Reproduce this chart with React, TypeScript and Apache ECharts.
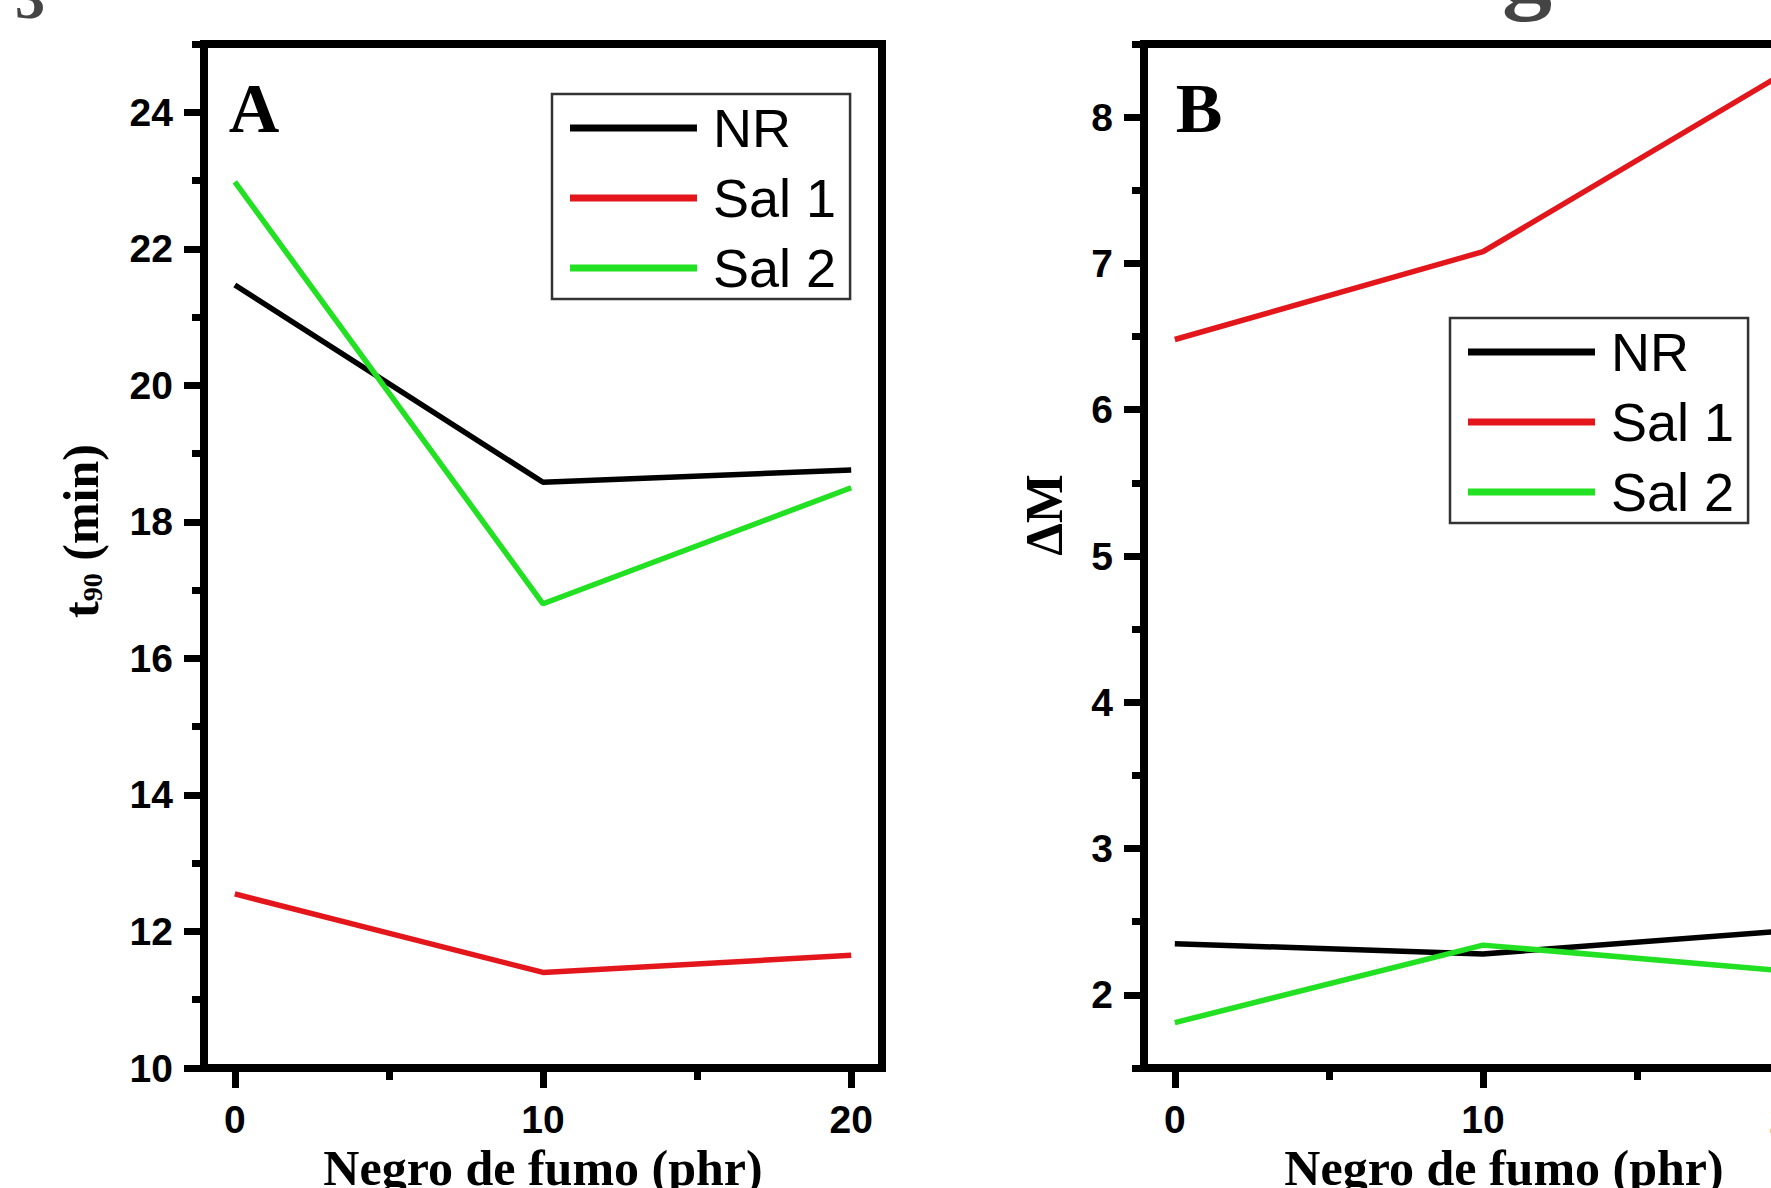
import React, { useEffect, useRef } from "react";
import * as echarts from "echarts";

// ---- data ----
const seriesNames = ["NR", "Sal 1", "Sal 2"];
const seriesColors = ["#000000", "#e3161c", "#22e022"];
const loadings = [0, 10, 20];

const xTicks = [0, 10, 20];
const xMinorTicks = [5, 15];

// Panel A: t90 (min)
const t90NR = [21.47, 18.58, 18.76];
const t90Sal1 = [12.55, 11.4, 11.65];
const t90Sal2 = [22.98, 16.8, 18.5];
const t90Ticks = [10, 12, 14, 16, 18, 20, 22, 24];
const t90Minor = [11, 13, 15, 17, 19, 21, 23, 25];

// Panel B: ΔM
const dmNR = [2.35, 2.28, 2.44];
const dmSal1 = [6.48, 7.08, 8.33];
const dmSal2 = [1.81, 2.34, 2.16];
const dmTicks = [2, 3, 4, 5, 6, 7, 8];
const dmMinor = [1.5, 2.5, 3.5, 4.5, 5.5, 6.5, 7.5, 8.5];

const SANS = "Liberation Sans";
const SERIF = "Liberation Serif";

function pairs(ys: number[]) {
  return loadings.map((x, i) => [x, ys[i]]);
}

function mainX(gridIndex: number) {
  return {
    type: "value",
    gridIndex,
    min: -1,
    max: 21,
    axisLine: { show: true, onZero: false, lineStyle: { color: "#000", width: 8 } },
    axisTick: { show: true, customValues: xTicks, length: 20, lineStyle: { color: "#000", width: 7 } },
    axisLabel: {
      show: true,
      customValues: xTicks,
      margin: 32,
      fontSize: 39,
      fontWeight: "bold",
      fontFamily: SANS,
      color: "#000",
    },
    splitLine: { show: false },
  };
}

function minorX(gridIndex: number) {
  return {
    type: "value",
    gridIndex,
    min: -1,
    max: 21,
    axisLine: { show: false, onZero: false },
    axisTick: { show: true, customValues: xMinorTicks, length: 12, lineStyle: { color: "#000", width: 7 } },
    axisLabel: { show: false },
    splitLine: { show: false },
  };
}

function mainY(gridIndex: number, min: number, max: number, ticks: number[]) {
  return {
    type: "value",
    gridIndex,
    min,
    max,
    axisLine: { show: true, onZero: false, lineStyle: { color: "#000", width: 8 } },
    axisTick: { show: true, customValues: ticks, length: 20, lineStyle: { color: "#000", width: 7 } },
    axisLabel: {
      show: true,
      customValues: ticks,
      margin: 31,
      fontSize: 39,
      fontWeight: "bold",
      fontFamily: SANS,
      color: "#000",
    },
    splitLine: { show: false },
  };
}

function minorY(gridIndex: number, min: number, max: number, ticks: number[]) {
  return {
    type: "value",
    gridIndex,
    min,
    max,
    axisLine: { show: false, onZero: false },
    axisTick: { show: true, customValues: ticks, length: 12, lineStyle: { color: "#000", width: 7 } },
    axisLabel: { show: false },
    splitLine: { show: false },
  };
}

function line(name: string, color: string, ys: number[], axisIndex: number) {
  return {
    type: "line",
    name,
    xAxisIndex: axisIndex,
    yAxisIndex: axisIndex,
    data: pairs(ys),
    symbol: "none",
    color,
    lineStyle: { color, width: 5.5 },
    clip: true,
    silent: true,
  };
}

function legend(left: number, top: number) {
  return {
    data: seriesNames,
    orient: "vertical",
    left,
    top,
    icon: "rect",
    itemWidth: 127,
    itemHeight: 7,
    itemGap: 16,
    padding: [7, 14, 4, 18],
    borderColor: "#333",
    borderWidth: 2.5,
    backgroundColor: "#fff",
    selectedMode: false,
    itemStyle: { borderWidth: 0 },
    textStyle: {
      fontSize: 54,
      lineHeight: 54,
      fontFamily: SANS,
      color: "#000",
      padding: [0, 0, 0, 11],
    },
  };
}

const gridBase = {
  top: 44,
  width: 678,
  height: 1024,
  containLabel: false,
  outerBoundsMode: "none",
};

export default function App() {
  const ref = useRef<HTMLDivElement>(null);

  useEffect(() => {
    if (!ref.current) return;
    const chart = echarts.init(ref.current, null, { renderer: "svg" });
    const option: any = {
      animation: false,
      backgroundColor: "#ffffff",
      grid: [
        { ...gridBase, left: 204, show: true, borderColor: "#000", borderWidth: 8, backgroundColor: "transparent" },
        { ...gridBase, left: 204, show: false },
        { ...gridBase, left: 1144, show: true, borderColor: "#000", borderWidth: 8, backgroundColor: "transparent" },
        { ...gridBase, left: 1144, show: false },
      ],
      xAxis: [mainX(0), minorX(1), mainX(2), minorX(3)],
      yAxis: [
        mainY(0, 10, 25, t90Ticks),
        minorY(1, 10, 25, t90Minor),
        mainY(2, 1.5, 8.5, dmTicks),
        minorY(3, 1.5, 8.5, dmMinor),
      ],
      legend: [legend(552, 94), legend(1450, 318)],
      series: [
        line(seriesNames[0], seriesColors[0], t90NR, 0),
        line(seriesNames[1], seriesColors[1], t90Sal1, 0),
        line(seriesNames[2], seriesColors[2], t90Sal2, 0),
        line(seriesNames[0], seriesColors[0], dmNR, 2),
        line(seriesNames[1], seriesColors[1], dmSal1, 2),
        line(seriesNames[2], seriesColors[2], dmSal2, 2),
      ],
      graphic: [
        {
          type: "text",
          x: 254,
          y: 108,
          style: { text: "A", font: `bold 70px "${SERIF}"`, fill: "#000", textAlign: "center", textVerticalAlign: "middle" },
        },
        {
          type: "text",
          x: 1199,
          y: 108,
          style: { text: "B", font: `bold 70px "${SERIF}"`, fill: "#000", textAlign: "center", textVerticalAlign: "middle" },
        },
        {
          type: "text",
          x: 30,
          y: -2,
          style: { text: "3", font: `bold 60px "${SERIF}"`, fill: "#444", textAlign: "center", textVerticalAlign: "middle" },
        },
        {
          type: "text",
          x: 1527,
          y: -33,
          style: { text: "g", font: `bold 100px "${SERIF}"`, fill: "#444", textAlign: "center", textVerticalAlign: "middle" },
        },
        {
          type: "text",
          x: 81,
          y: 531,
          rotation: Math.PI / 2,
          style: {
            text: "{a|t}{b|90}{a| (min)}",
            textAlign: "center",
            textVerticalAlign: "middle",
            fill: "#000",
            rich: {
              a: { fontSize: 50, lineHeight: 50, fontWeight: "bold", fontFamily: SERIF, color: "#000" },
              b: { fontSize: 28, fontWeight: "bold", fontFamily: SERIF, color: "#000", verticalAlign: "bottom" },
            },
          },
        },
        {
          type: "text",
          x: 1044,
          y: 515,
          rotation: Math.PI / 2,
          style: { text: "ΔM", font: `bold 52px "${SERIF}"`, fill: "#000", textAlign: "center", textVerticalAlign: "middle" },
        },
        {
          type: "text",
          x: 543,
          y: 1168,
          style: { text: "Negro de fumo (phr)", font: `bold 50px "${SERIF}"`, fill: "#000", textAlign: "center", textVerticalAlign: "middle" },
        },
        {
          type: "text",
          x: 1504,
          y: 1168,
          style: { text: "Negro de fumo (phr)", font: `bold 50px "${SERIF}"`, fill: "#000", textAlign: "center", textVerticalAlign: "middle" },
        },
      ],
    };
    chart.setOption(option);
    return () => chart.dispose();
  }, []);

  return (
    <div
      ref={ref}
      style={{ position: "fixed", left: 0, top: 0, width: 1771, height: 1188, background: "#fff" }}
    />
  );
}
